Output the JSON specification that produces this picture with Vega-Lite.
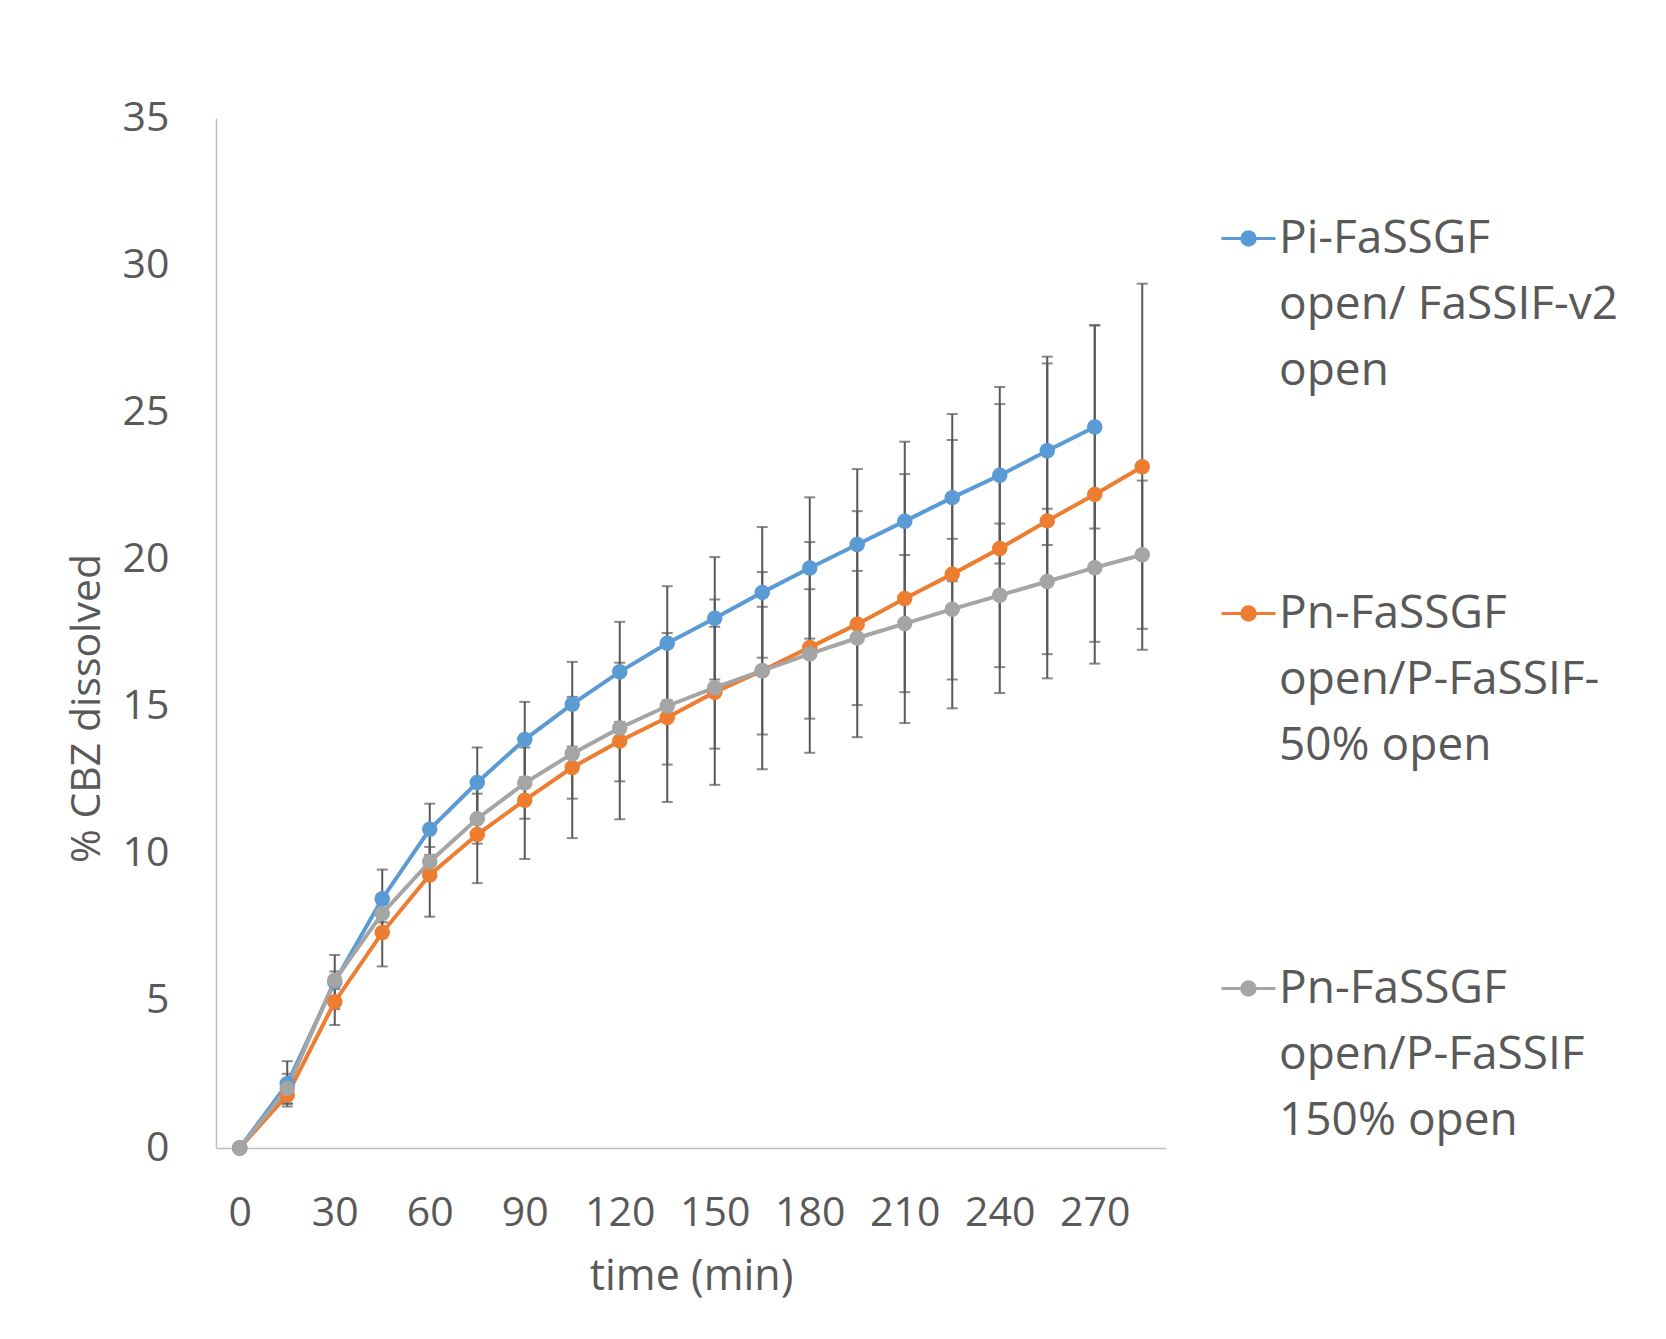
{
  "$schema": "https://vega.github.io/schema/vega-lite/v6.json",
  "width": 950,
  "height": 1030,
  "autosize": {"type": "none"},
  "padding": {"left": 216, "top": 118, "right": 500, "bottom": 191},
  "background": "white",
  "config": {
    "view": {"stroke": null},
    "font": "Open Sans",
    "style": {"guide-label": {"lineHeight": 66}}
  },
  "data": {
    "values": [
      {"s": "A", "time": 0, "mean": 0, "err": 0},
      {"s": "A", "time": 15, "mean": 2.18, "err": 0.77},
      {"s": "A", "time": 30, "mean": 5.64, "err": 0.92},
      {"s": "A", "time": 45, "mean": 8.47, "err": 0.99},
      {"s": "A", "time": 60, "mean": 10.83, "err": 0.87},
      {"s": "A", "time": 75, "mean": 12.42, "err": 1.19},
      {"s": "A", "time": 90, "mean": 13.88, "err": 1.28},
      {"s": "A", "time": 105, "mean": 15.08, "err": 1.44},
      {"s": "A", "time": 120, "mean": 16.18, "err": 1.7},
      {"s": "A", "time": 135, "mean": 17.15, "err": 1.94},
      {"s": "A", "time": 150, "mean": 18.0, "err": 2.08},
      {"s": "A", "time": 165, "mean": 18.88, "err": 2.22},
      {"s": "A", "time": 180, "mean": 19.71, "err": 2.4},
      {"s": "A", "time": 195, "mean": 20.51, "err": 2.56},
      {"s": "A", "time": 210, "mean": 21.3, "err": 2.7},
      {"s": "A", "time": 225, "mean": 22.1, "err": 2.84},
      {"s": "A", "time": 240, "mean": 22.86, "err": 3.0},
      {"s": "A", "time": 255, "mean": 23.69, "err": 3.2},
      {"s": "A", "time": 270, "mean": 24.5, "err": 3.45},
      {"s": "B", "time": 0, "mean": 0, "err": 0},
      {"s": "B", "time": 15, "mean": 1.8, "err": 0.3},
      {"s": "B", "time": 30, "mean": 4.97, "err": 0.79},
      {"s": "B", "time": 45, "mean": 7.32, "err": 1.15},
      {"s": "B", "time": 60, "mean": 9.28, "err": 1.42},
      {"s": "B", "time": 75, "mean": 10.65, "err": 1.65},
      {"s": "B", "time": 90, "mean": 11.82, "err": 2.0},
      {"s": "B", "time": 105, "mean": 12.93, "err": 2.4},
      {"s": "B", "time": 120, "mean": 13.83, "err": 2.66},
      {"s": "B", "time": 135, "mean": 14.63, "err": 2.87},
      {"s": "B", "time": 150, "mean": 15.49, "err": 3.15},
      {"s": "B", "time": 165, "mean": 16.22, "err": 3.35},
      {"s": "B", "time": 180, "mean": 17.01, "err": 3.58},
      {"s": "B", "time": 195, "mean": 17.8, "err": 3.84},
      {"s": "B", "time": 210, "mean": 18.67, "err": 4.23},
      {"s": "B", "time": 225, "mean": 19.5, "err": 4.56},
      {"s": "B", "time": 240, "mean": 20.37, "err": 4.91},
      {"s": "B", "time": 255, "mean": 21.31, "err": 5.35},
      {"s": "B", "time": 270, "mean": 22.21, "err": 5.75},
      {"s": "B", "time": 285, "mean": 23.15, "err": 6.22},
      {"s": "C", "time": 0, "mean": 0, "err": 0},
      {"s": "C", "time": 15, "mean": 2.02, "err": 0.5},
      {"s": "C", "time": 30, "mean": 5.7, "err": 0.3},
      {"s": "C", "time": 45, "mean": 7.97, "err": 0.3},
      {"s": "C", "time": 60, "mean": 9.73, "err": 0.5},
      {"s": "C", "time": 75, "mean": 11.19, "err": 0.85},
      {"s": "C", "time": 90, "mean": 12.4, "err": 1.21},
      {"s": "C", "time": 105, "mean": 13.4, "err": 1.53},
      {"s": "C", "time": 120, "mean": 14.27, "err": 1.81},
      {"s": "C", "time": 135, "mean": 15.02, "err": 1.99},
      {"s": "C", "time": 150, "mean": 15.64, "err": 2.07},
      {"s": "C", "time": 165, "mean": 16.22, "err": 2.17},
      {"s": "C", "time": 180, "mean": 16.79, "err": 2.2},
      {"s": "C", "time": 195, "mean": 17.33, "err": 2.28},
      {"s": "C", "time": 210, "mean": 17.82, "err": 2.33},
      {"s": "C", "time": 225, "mean": 18.31, "err": 2.39},
      {"s": "C", "time": 240, "mean": 18.78, "err": 2.44},
      {"s": "C", "time": 255, "mean": 19.25, "err": 2.47},
      {"s": "C", "time": 270, "mean": 19.72, "err": 2.52},
      {"s": "C", "time": 285, "mean": 20.16, "err": 2.52}
    ]
  },
  "encoding": {
    "x": {
      "field": "time",
      "type": "quantitative",
      "scale": {"domain": [-7.5, 292.5], "nice": false, "zero": false},
      "axis": {
        "title": "time (min)",
        "values": [0, 30, 60, 90, 120, 150, 180, 210, 240, 270],
        "grid": false,
        "ticks": false,
        "tickSize": 0,
        "domainColor": "#BFBFBF",
        "domainWidth": 1.5,
        "labelFontSize": 41,
        "labelColor": "#595959",
        "labelPadding": 45,
        "labelFlush": false,
        "titleFontSize": 43,
        "titleFontWeight": "normal",
        "titleColor": "#595959",
        "titleBaseline": "middle",
        "titleY": 128
      }
    },
    "y": {
      "field": "mean",
      "type": "quantitative",
      "scale": {"domain": [0, 35], "nice": false},
      "axis": {
        "title": "% CBZ dissolved",
        "values": [0, 5, 10, 15, 20, 25, 30, 35],
        "grid": false,
        "ticks": false,
        "tickSize": 0,
        "domainColor": "#BFBFBF",
        "domainWidth": 1.5,
        "labelFontSize": 41,
        "labelColor": "#595959",
        "labelPadding": 47,
        "labelFlush": false,
        "titleFontSize": 41,
        "titleFontWeight": "normal",
        "titleColor": "#595959",
        "titleBaseline": "middle",
        "titleAlign": "center",
        "titleAngle": 270,
        "titleX": -129,
        "titleY": 590
      }
    }
  },
  "layer": [
    {
      "mark": {
        "type": "errorbar",
        "color": "#595959",
        "thickness": 2,
        "ticks": {"size": 11, "thickness": 2, "color": "#595959"},
        "rule": {"strokeWidth": 2, "color": "#595959"}
      },
      "encoding": {
        "yError": {"field": "err"},
        "detail": {"field": "s", "type": "nominal"}
      }
    },
    {
      "mark": {"type": "line", "strokeWidth": 4},
      "encoding": {
        "color": {
          "field": "s",
          "type": "nominal",
          "scale": {"domain": ["A", "B", "C"], "range": ["#5B9BD5", "#ED7D31", "#A5A5A5"]},
          "legend": {
            "orient": "none",
            "legendX": 1004,
            "legendY": 92,
            "title": null,
            "labelExpr": "datum.value == 'A' ? ['Pi-FaSSGF', 'open/ FaSSIF-v2', 'open'] : datum.value == 'B' ? ['Pn-FaSSGF', 'open/P-FaSSIF-', '50% open'] : ['Pn-FaSSGF', 'open/P-FaSSIF', '150% open']",
            "labelFontSize": 46,
            "labelColor": "#595959",
            "labelLimit": 500,
            "labelOffset": 2,
            "symbolType": "M-1,0L1,0M0.25,0A0.25,0.25,0,1,1,-0.25,0A0.25,0.25,0,1,1,0.25,0Z",
            "symbolSize": 2916,
            "symbolStrokeWidth": 3,
            "rowPadding": 191
          }
        }
      }
    },
    {
      "mark": {"type": "point", "filled": true, "size": 240, "opacity": 1},
      "encoding": {
        "color": {"field": "s", "type": "nominal"}
      }
    }
  ]
}
